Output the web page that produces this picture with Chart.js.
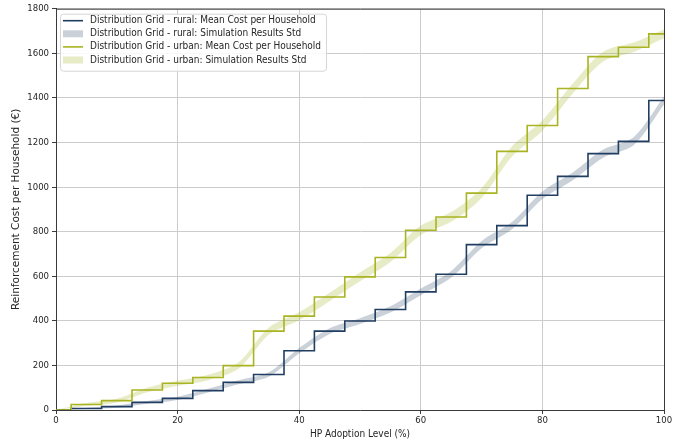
<!DOCTYPE html>
<html>
<head>
<meta charset="utf-8">
<script src="https://cdn.jsdelivr.net/npm/chart.js@4.4.1/dist/chart.umd.min.js"></script>
<style>
html,body{margin:0;padding:0;background:#ffffff;}
#wrap{width:674px;height:442px;}
</style>
</head>
<body>
<div id="wrap"><canvas id="c" width="674" height="442"></canvas></div>
<script>
// ---- data ----
const adoption = [0, 5, 10, 15, 20, 25, 30, 35, 40, 45, 50, 55, 60, 65, 70, 75, 80, 85, 90, 95, 100];
const ruralMean = [0, 7, 15, 34, 52, 87, 124, 159, 266, 354, 399, 451, 530, 609, 742, 827, 963, 1048, 1150, 1205, 1388];
const ruralStd  = [0, 3, 5, 6, 7, 8, 9, 10, 12, 13, 13, 14, 15, 15, 16, 16, 17, 17, 18, 18, 18];
const urbanMean = [0, 25, 42, 90, 120, 146, 199, 354, 421, 507, 597, 684, 806, 866, 973, 1160, 1276, 1442, 1585, 1627, 1687];
const urbanStd  = [0, 6, 8, 10, 11, 12, 14, 16, 18, 19, 20, 20, 21, 22, 22, 23, 23, 22, 22, 21, 20];
const xTicks = [0, 20, 40, 60, 80, 100];
const yTicks = [0, 200, 400, 600, 800, 1000, 1200, 1400, 1600, 1800];
const legendLabels = [
  'Distribution Grid - rural: Mean Cost per Household',
  'Distribution Grid - rural: Simulation Results Std',
  'Distribution Grid - urban: Mean Cost per Household',
  'Distribution Grid - urban: Simulation Results Std'
];
const xTitle = 'HP Adoption Level (%)';
const yTitle = 'Reinforcement Cost per Household (€)';

// ---- styles ----
const RURAL = '#203d62';
const RURAL_BAND = 'rgba(32,61,98,0.24)';
const URBAN = '#a8b421';
const URBAN_BAND = 'rgba(168,180,33,0.26)';
const FONT = '"DejaVu Sans Condensed", "DejaVu Sans", sans-serif';
const FONT_Y = '"DejaVu Sans", sans-serif';
const TXT = '#262626';

const pts = (xs, ys) => xs.map((x, i) => ({x: x, y: ys[i]}));
const plus = (m, s) => m.map((v, i) => v + s[i]);
const minus = (m, s) => m.map((v, i) => v - s[i]);

const bandBase = {pointRadius: 0, borderWidth: 0, tension: 0.3, order: 2};

const frameAndLegend = {
  id: 'frameAndLegend',
  afterDraw(chart) {
    const ctx = chart.ctx;
    const a = chart.chartArea;
    ctx.save();
    // top and right spines
    ctx.strokeStyle = '#3a3a3a';
    ctx.lineWidth = 1;
    ctx.beginPath();
    ctx.moveTo(a.left, a.top + 0.5);
    ctx.lineTo(a.right + 0.5, a.top + 0.5);
    ctx.lineTo(a.right + 0.5, a.bottom);
    ctx.stroke();
    // legend
    const bx = a.left + 4, by = a.top + 5, bw = 266, bh = 57;
    ctx.fillStyle = 'rgba(255,255,255,0.85)';
    ctx.strokeStyle = '#d6d6d6';
    ctx.beginPath();
    ctx.roundRect(bx + 0.5, by + 0.5, bw, bh, 3);
    ctx.fill();
    ctx.stroke();
    const styles = [
      {type: 'line', color: RURAL},
      {type: 'box', color: RURAL_BAND},
      {type: 'line', color: URBAN},
      {type: 'box', color: URBAN_BAND}
    ];
    ctx.font = '10px ' + FONT;
    ctx.textBaseline = 'middle';
    ctx.textAlign = 'left';
    for (let i = 0; i < legendLabels.length; i++) {
      const cy = by + 7 + i * 13.1;
      const st = styles[i];
      if (st.type === 'line') {
        ctx.strokeStyle = st.color;
        ctx.lineWidth = 1.6;
        ctx.beginPath();
        ctx.moveTo(bx + 3, cy);
        ctx.lineTo(bx + 23, cy);
        ctx.stroke();
      } else {
        ctx.fillStyle = st.color;
        ctx.fillRect(bx + 3, cy - 3.5, 20, 7);
      }
      ctx.fillStyle = TXT;
      ctx.fillText(legendLabels[i], bx + 30, cy);
    }
    ctx.restore();
  }
};

new Chart(document.getElementById('c'), {
  type: 'line',
  data: {
    datasets: [
      Object.assign({label: 'rural upper', data: pts(adoption, plus(ruralMean, ruralStd)), backgroundColor: RURAL_BAND, fill: '+1'}, bandBase),
      Object.assign({label: 'rural lower', data: pts(adoption, minus(ruralMean, ruralStd)), backgroundColor: RURAL_BAND, fill: false}, bandBase),
      Object.assign({label: 'urban upper', data: pts(adoption, plus(urbanMean, urbanStd)), backgroundColor: URBAN_BAND, fill: '+1'}, bandBase),
      Object.assign({label: 'urban lower', data: pts(adoption, minus(urbanMean, urbanStd)), backgroundColor: URBAN_BAND, fill: false}, bandBase),
      {label: legendLabels[0], data: pts(adoption, ruralMean), borderColor: RURAL, borderWidth: 1.6, pointRadius: 0, stepped: 'middle', fill: false, order: 1},
      {label: legendLabels[2], data: pts(adoption, urbanMean), borderColor: URBAN, borderWidth: 1.6, pointRadius: 0, stepped: 'middle', fill: false, order: 0}
    ]
  },
  options: {
    responsive: false,
    animation: false,
    devicePixelRatio: 1,
    layout: {padding: {top: 8, right: 10, left: 0, bottom: 0}},
    plugins: {legend: {display: false}, tooltip: {enabled: false}},
    scales: {
      x: {
        type: 'linear', min: 0, max: 100,
        afterBuildTicks: s => { s.ticks = xTicks.map(v => ({value: v})); },
        afterFit: s => { s.height = 32; },
        grid: {color: '#cccccc', lineWidth: 1, tickLength: 4, tickColor: '#3a3a3a', drawTicks: true},
        border: {display: true, color: '#3a3a3a', width: 1},
        ticks: {color: TXT, font: {family: FONT, size: 9.5}, padding: 1, maxRotation: 0, callback: v => String(v)},
        title: {display: true, text: xTitle, color: TXT, font: {family: FONT, size: 10}, padding: {top: 2, bottom: 2}}
      },
      y: {
        type: 'linear', min: 0, max: 1800,
        afterBuildTicks: s => { s.ticks = yTicks.map(v => ({value: v})); },
        afterFit: s => { s.width = 56; },
        grid: {color: '#cccccc', lineWidth: 1, tickLength: 4, tickColor: '#3a3a3a', drawTicks: true},
        border: {display: true, color: '#3a3a3a', width: 1},
        ticks: {color: TXT, font: {family: FONT, size: 9.5}, padding: 3, callback: v => String(v)},
        title: {display: true, text: yTitle, color: TXT, font: {family: FONT_Y, size: 10.5}, padding: {top: 10, bottom: 0}}
      }
    }
  },
  plugins: [frameAndLegend]
});
</script>
</body>
</html>
